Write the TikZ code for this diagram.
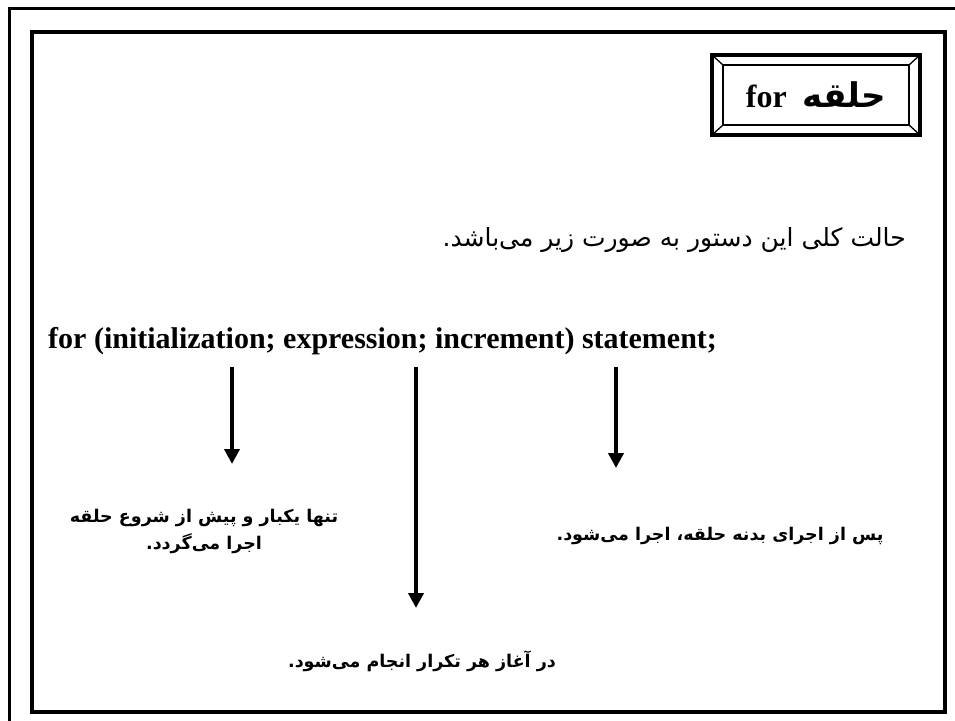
\documentclass[tikz,border=0pt]{standalone}
\usepackage{fontspec}
\setmainfont{Liberation Serif}
\newfontfamily\arabicfont[Script=Arabic]{DejaVu Sans}
\TeXXeTstate=1
\usetikzlibrary{arrows.meta}
\begin{document}
\begin{tikzpicture}[x=1pt,y=-1pt,
  frame/.style={draw=black,line width=3.5pt},
  arr/.style={line width=4pt,-{Triangle[width=15pt,length=15pt]}},
  fa/.style={font=\arabicfont\fontsize{17.5}{27}\selectfont\bfseries,align=center,inner sep=0pt},
]
\useasboundingbox (0,0) rectangle (955,720);
\clip (0,0) rectangle (955,720);
\fill[white] (0,0) rectangle (955,720);
% outer and inner frames
\draw[line width=3pt] (9,8) rectangle (1000,800);
\draw[line width=4.5pt] (32,32) rectangle (945,712);
% title box
\coordinate (tA) at (712,55);
\coordinate (tB) at (920,55);
\coordinate (tC) at (920,135);
\coordinate (tD) at (712,135);
\coordinate (ta) at (723,65);
\coordinate (tb) at (909,65);
\coordinate (tc) at (909,125);
\coordinate (td) at (723,125);
\draw[frame] (tA) -- (tB) -- (tC) -- (tD) -- cycle;
\draw[line width=2.8pt] (ta) -- (tb) -- (tc) -- (td) -- cycle;
\draw[line width=1.3pt] (tA) -- (ta) (tB) -- (tb) (tC) -- (tc) (tD) -- (td);
\node (title) at (816,95) {\fontsize{32}{36}\selectfont\bfseries for\ \ {\arabicfont\fontsize{34}{36}\selectfont\beginR حلقه\endR}};
% intro line
\node[anchor=east,inner sep=0pt] (intro) at (906,240) {\arabicfont\fontsize{25}{30}\selectfont\beginR حالت کلی این دستور به صورت زیر می‌باشد.\endR};
% syntax line
\node[anchor=base west,inner sep=0pt] (syntax) at (48,348) {\fontsize{30}{34}\selectfont\bfseries for (initialization; expression; increment) statement;};
% arrows
\coordinate (s1) at (232,367);
\coordinate (e1) at (232,464);
\coordinate (s2) at (416,367);
\coordinate (e2) at (416,608);
\coordinate (s3) at (616,367);
\coordinate (e3) at (616,468);
\draw[arr] (s1) -- (e1);
\draw[arr] (s2) -- (e2);
\draw[arr] (s3) -- (e3);
% labels
\node[fa] (l1) at (204,531) {\beginR تنها یکبار و پیش از شروع حلقه\endR\\\beginR اجرا می‌گردد.\endR};
\node[fa] (l3) at (720,536) {\beginR پس از اجرای بدنه حلقه، اجرا می‌شود.\endR};
\node[fa] (l2) at (422,661) {\beginR در آغاز هر تکرار انجام می‌شود.\endR};
\end{tikzpicture}
\end{document}
